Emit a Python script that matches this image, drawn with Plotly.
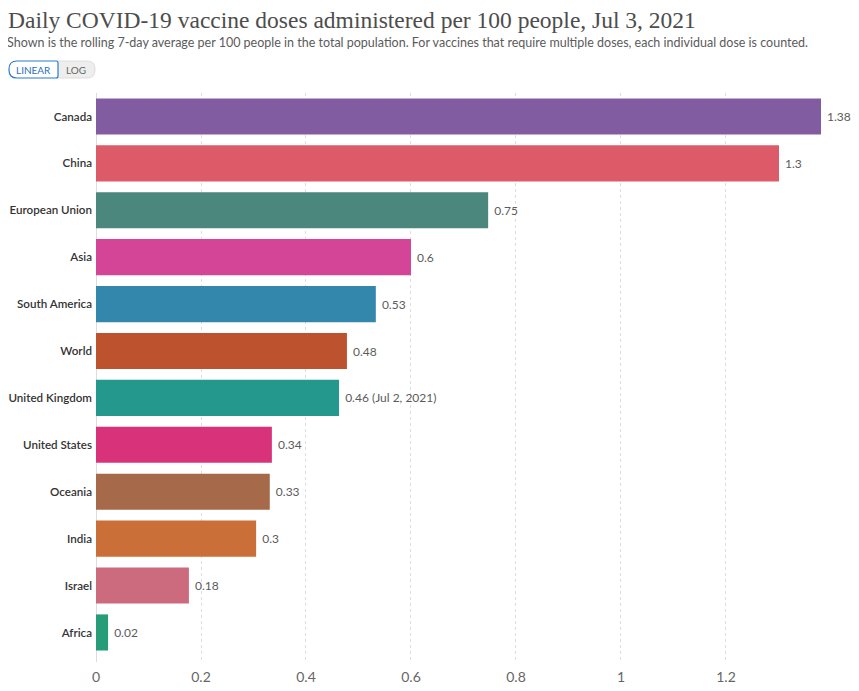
import plotly.graph_objects as go

countries = ["Canada", "China", "European Union", "Asia", "South America", "World",
             "United Kingdom", "United States", "Oceania", "India", "Israel", "Africa"]
doses = [1.381, 1.301, 0.747, 0.600, 0.533, 0.478, 0.463, 0.335, 0.331, 0.305, 0.177, 0.023]
value_labels = ["1.38", "1.3", "0.75", "0.6", "0.53", "0.48", "0.46 (Jul 2, 2021)",
                "0.34", "0.33", "0.3", "0.18", "0.02"]
bar_colors = ["#825CA0", "#DD5A69", "#4C877E", "#D54597", "#3487AC", "#BD532E",
              "#25988E", "#D8327B", "#A66A4A", "#CB6F38", "#CC6B7E", "#269D78"]
x_ticks = [0, 0.2, 0.4, 0.6, 0.8, 1, 1.2]

# plot area in page pixels: x 96..821, y 93..662 (page body has an 8px margin)
W, H = 725, 569


def px(x):
    return (x - 96) / W


def py(y):
    return (662 - y) / H


def round_box(x0, x1, y0, y1, rl, rr):
    # rounded rectangle path in paper coords, corners given in pixels
    pts = []
    pts.append(f"M{px(x0 + rl)},{py(y0)}")
    pts.append(f"L{px(x1 - rr)},{py(y0)}")
    pts.append(f"Q{px(x1)},{py(y0)} {px(x1)},{py(y0 + rr)}")
    pts.append(f"L{px(x1)},{py(y1 - rr)}")
    pts.append(f"Q{px(x1)},{py(y1)} {px(x1 - rr)},{py(y1)}")
    pts.append(f"L{px(x0 + rl)},{py(y1)}")
    pts.append(f"Q{px(x0)},{py(y1)} {px(x0)},{py(y1 - rl)}")
    pts.append(f"L{px(x0)},{py(y0 + rl)}")
    pts.append(f"Q{px(x0)},{py(y0)} {px(x0 + rl)},{py(y0)}")
    return " ".join(pts) + " Z"


fig = go.Figure()

fig.add_trace(go.Bar(
    y=countries, x=doses, orientation="h",
    marker=dict(color=bar_colors, line=dict(width=0)),
    text=value_labels, texttemplate=" %{text}", textposition="outside", cliponaxis=False,
    textfont=dict(family="Lato", size=12, color="#5b5b5b"),
    hoverinfo="y+x",
))

fig.update_layout(
    width=851, height=683,
    margin=dict(l=88, r=38, t=85, b=29, autoexpand=False),
    plot_bgcolor="white", paper_bgcolor="white",
    showlegend=False, bargap=0.23,
    font=dict(family="Lato", color="#333"),
    xaxis=dict(range=[0, 1.381], tickvals=x_ticks, ticktext=[str(t) for t in x_ticks],
               showgrid=True, gridcolor="#dddddd", griddash="3px,3px", gridwidth=1,
               zeroline=True, zerolinecolor="#dddddd", zerolinewidth=1, automargin=False,
               ticks="outside", ticklen=2, tickcolor="rgba(0,0,0,0)",
               tickfont=dict(family="Lato", size=14, color="#666"), fixedrange=True),
    yaxis=dict(categoryorder="array", categoryarray=countries, range=[11.63, -0.5],
               showgrid=False, zeroline=False, ticklabelstandoff=3, automargin=False,
               tickfont=dict(family="Lato", size=11.6, color="#333", weight=600),
               fixedrange=True),
)

# title and subtitle
fig.add_annotation(text="Daily COVID-19 vaccine doses administered per 100 people, Jul 3, 2021",
                   xref="paper", yref="paper", x=px(7), y=py(20), xanchor="left", yanchor="middle",
                   showarrow=False, borderpad=0,
                   font=dict(family="Liberation Serif", size=23.5, color="#4d4d4d"))
fig.add_annotation(text="Shown is the rolling 7-day average per 100 people in the total population. "
                        "For vaccines that require multiple doses, each individual dose is counted.",
                   xref="paper", yref="paper", x=px(6), y=py(42), xanchor="left", yanchor="middle",
                   showarrow=False, borderpad=0,
                   font=dict(family="Lato", size=12.5, color="#5b5b5b"))

# LINEAR / LOG toggle
fig.add_shape(type="path", xref="paper", yref="paper", path=round_box(56, 95, 61, 78, 0, 8),
              fillcolor="#eeeeee", line=dict(color="#dddddd", width=1), layer="above")
fig.add_shape(type="path", xref="paper", yref="paper", path=round_box(9, 58, 61, 78, 8, 2),
              fillcolor="white", line=dict(color="#2a7ad8", width=1.2), layer="above")
fig.add_annotation(text="LINEAR", xref="paper", yref="paper", x=px(33), y=py(70),
                   xanchor="center", yanchor="middle",
                   showarrow=False, font=dict(family="Lato", size=10, color="#2a6fc4"))
fig.add_annotation(text="LOG", xref="paper", yref="paper", x=px(76), y=py(70),
                   xanchor="center", yanchor="middle",
                   showarrow=False, font=dict(family="Lato", size=10, color="#666"))

fig.write_html("out.html")
